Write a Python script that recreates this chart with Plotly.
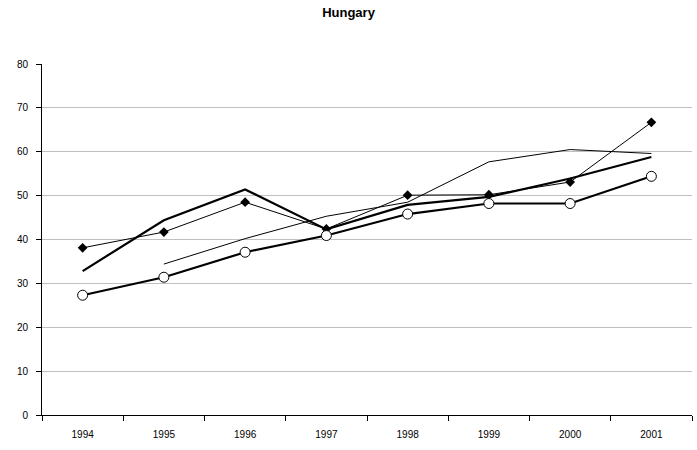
import plotly.graph_objects as go

years = ["1994", "1995", "1996", "1997", "1998", "1999", "2000", "2001"]
diamond_series = [38.1, 41.7, 48.5, 42.4, 50.1, 50.2, 53.1, 66.7]
thick_series = [32.8, 44.4, 51.4, 42.3, 47.9, 49.7, 53.9, 58.8]
circle_series = [27.3, 31.4, 37.1, 40.9, 45.8, 48.2, 48.2, 54.4]
thin_series = [None, 34.4, 40.2, 45.3, 48.5, 57.7, 60.5, 59.6]

FONT = "Liberation Sans, Arial, sans-serif"

fig = go.Figure()
fig.add_trace(go.Scatter(x=years, y=thin_series, mode="lines",
                         line=dict(color="black", width=1), connectgaps=False))
fig.add_trace(go.Scatter(x=years, y=thick_series, mode="lines",
                         line=dict(color="black", width=2.2)))
fig.add_trace(go.Scatter(x=years, y=diamond_series, mode="lines+markers",
                         line=dict(color="black", width=1),
                         marker=dict(symbol="diamond", size=7.5, color="black")))
fig.add_trace(go.Scatter(x=years, y=circle_series, mode="lines+markers",
                         line=dict(color="black", width=2.2),
                         marker=dict(symbol="circle", size=10, color="white",
                                     line=dict(color="black", width=1))))

fig.update_layout(
    width=697, height=450,
    paper_bgcolor="white", plot_bgcolor="white",
    margin=dict(l=42, r=5, t=64, b=35),
    showlegend=False,
    hovermode=False,
    title=dict(text="<b>Hungary</b>", x=0.5, xanchor="center",
               y=1 - 12 / 450, yanchor="middle",
               font=dict(family=FONT, size=13, color="black")),
    font=dict(family=FONT, size=10, color="black"),
)
fig.update_xaxes(type="category", range=[-0.5, 7.5], tickson="boundaries",
                 ticks="outside", ticklen=5, tickcolor="black",
                 showline=True, linecolor="black", linewidth=1,
                 showgrid=False, tickfont=dict(size=10), ticklabelstandoff=10)
fig.update_yaxes(range=[0, 80], dtick=10, ticks="outside", ticklen=5, tickcolor="black",
                 showline=True, linecolor="black", linewidth=1,
                 showgrid=True, gridcolor="#c0c0c0", gridwidth=1,
                 zeroline=False, tickfont=dict(size=10), ticklabelstandoff=6)

fig.write_html("out.html",
               config={"displayModeBar": False},
               post_script="document.body.style.margin='0';document.body.style.overflow='hidden';")
